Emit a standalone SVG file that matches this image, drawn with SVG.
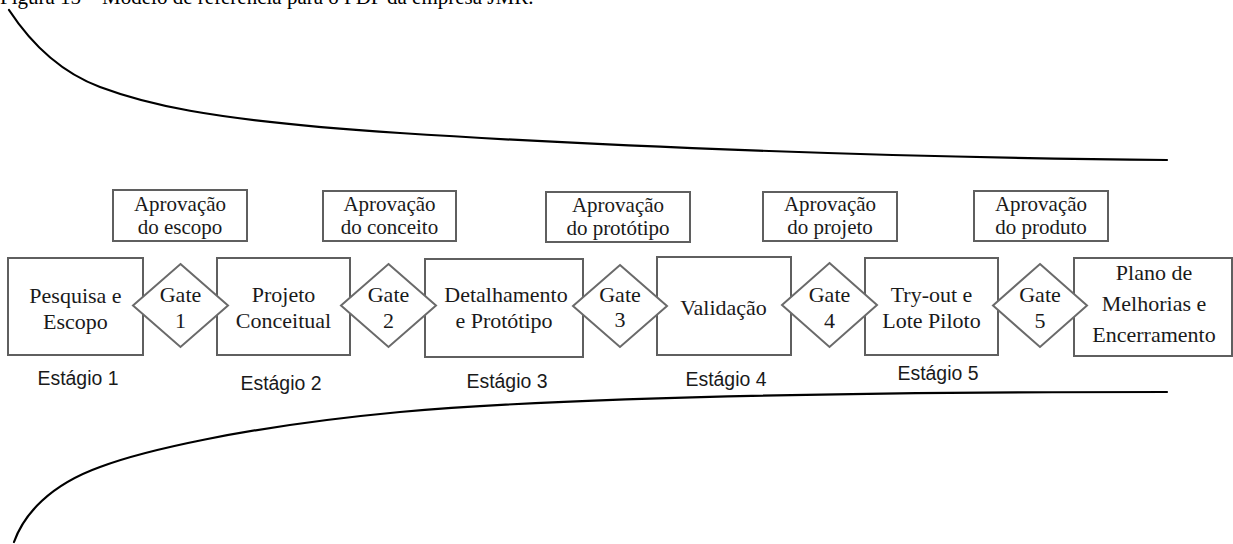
<svg xmlns="http://www.w3.org/2000/svg" width="1233" height="544" viewBox="0 0 1233 544">
<style>
  .box { fill: #ffffff; stroke: #5f5f5f; stroke-width: 2; }
  .gate { fill: #ffffff; stroke: #6a6a6a; stroke-width: 2; }
  .t { font-family: "Liberation Serif", "Times New Roman", serif; font-size: 22px; fill: #1a1a1a; text-anchor: middle; }
  .a { font-family: "Liberation Serif", "Times New Roman", serif; font-size: 21px; fill: #1a1a1a; text-anchor: middle; }
  .s { font-family: "Liberation Sans", Arial, sans-serif; font-size: 20px; fill: #1a1a1a; text-anchor: middle; }
  .cap { font-family: "Liberation Serif", "Times New Roman", serif; font-size: 21px; fill: #000; }
  .curve { fill: none; stroke: #000; stroke-width: 2.2; stroke-linecap: round; }
</style>
<rect x="0" y="0" width="1233" height="544" fill="#ffffff"/>
<text class="cap" x="0" y="4">Figura 15 – Modelo de referência para o PDP da empresa JMR.</text>

<g id="connectors">
  <path class="curve" d="M9,10 C30,42 60,72 100,87 C140,102 200,120 400,133 C600,146 900,158 1167,160"/>
  <path class="curve" d="M14,542 C24,514 50,485 100,467 C140,452 240,427 400,412 C580,396 900,392 1167,392"/>
</g>

<g id="approval1"><rect class="box" x="113" y="190" width="134" height="51"/><text class="a" x="180" y="211">Aprovação</text><text class="a" x="180" y="234">do escopo</text></g>
<g id="approval2"><rect class="box" x="323" y="191" width="133" height="50"/><text class="a" x="389.5" y="211">Aprovação</text><text class="a" x="389.5" y="234">do conceito</text></g>
<g id="approval3"><rect class="box" x="546" y="192" width="144" height="50"/><text class="a" x="618" y="212">Aprovação</text><text class="a" x="618" y="235">do protótipo</text></g>
<g id="approval4"><rect class="box" x="763" y="192" width="134" height="49"/><text class="a" x="830" y="211">Aprovação</text><text class="a" x="830" y="234">do projeto</text></g>
<g id="approval5"><rect class="box" x="974" y="191" width="134" height="50"/><text class="a" x="1041" y="211">Aprovação</text><text class="a" x="1041" y="234">do produto</text></g>

<g id="stage1"><rect class="box" x="8" y="258" width="135" height="97"/><text class="t" x="75.5" y="303">Pesquisa e</text><text class="t" x="75.5" y="328.5">Escopo</text><text class="s" x="78" y="385" textLength="81" lengthAdjust="spacingAndGlyphs">Estágio 1</text></g>
<g id="stage2"><rect class="box" x="217" y="258" width="133" height="97"/><text class="t" x="283.5" y="302">Projeto</text><text class="t" x="283.5" y="328">Conceitual</text><text class="s" x="281" y="390" textLength="81" lengthAdjust="spacingAndGlyphs">Estágio 2</text></g>
<g id="stage3"><rect class="box" x="425" y="259" width="158" height="98"/><text class="t" x="506" y="302">Detalhamento</text><text class="t" x="504" y="328">e Protótipo</text><text class="s" x="507" y="388" textLength="81" lengthAdjust="spacingAndGlyphs">Estágio 3</text></g>
<g id="stage4"><rect class="box" x="657" y="257" width="134" height="98"/><text class="t" x="723.5" y="315">Validação</text><text class="s" x="726" y="386" textLength="81" lengthAdjust="spacingAndGlyphs">Estágio 4</text></g>
<g id="stage5"><rect class="box" x="865" y="258" width="133" height="97"/><text class="t" x="931.5" y="302">Try-out e</text><text class="t" x="931.5" y="328">Lote Piloto</text><text class="s" x="938" y="380" textLength="81" lengthAdjust="spacingAndGlyphs">Estágio 5</text></g>
<g id="stage6"><rect class="box" x="1074" y="258" width="158" height="98"/><text class="t" x="1154" y="280">Plano de</text><text class="t" x="1154" y="311">Melhorias e</text><text class="t" x="1154" y="342">Encerramento</text></g>

<g id="gate1"><polygon class="gate" points="180.5,264 228,305.5 180.5,347 133,305.5"/><text class="t" x="180.5" y="302">Gate</text><text class="t" x="180.5" y="328">1</text></g>
<g id="gate2"><polygon class="gate" points="388.5,264 436,305.5 388.5,347 341,305.5"/><text class="t" x="388.5" y="302">Gate</text><text class="t" x="388.5" y="328">2</text></g>
<g id="gate3"><polygon class="gate" points="620,265 667,306 620,347 573,306"/><text class="t" x="620" y="302">Gate</text><text class="t" x="620" y="327">3</text></g>
<g id="gate4"><polygon class="gate" points="829.5,263 877,305 829.5,347 782,305"/><text class="t" x="829.5" y="302">Gate</text><text class="t" x="829.5" y="328">4</text></g>
<g id="gate5"><polygon class="gate" points="1040,264 1087,305.5 1040,347 993,305.5"/><text class="t" x="1040" y="302">Gate</text><text class="t" x="1040" y="328">5</text></g>
</svg>
